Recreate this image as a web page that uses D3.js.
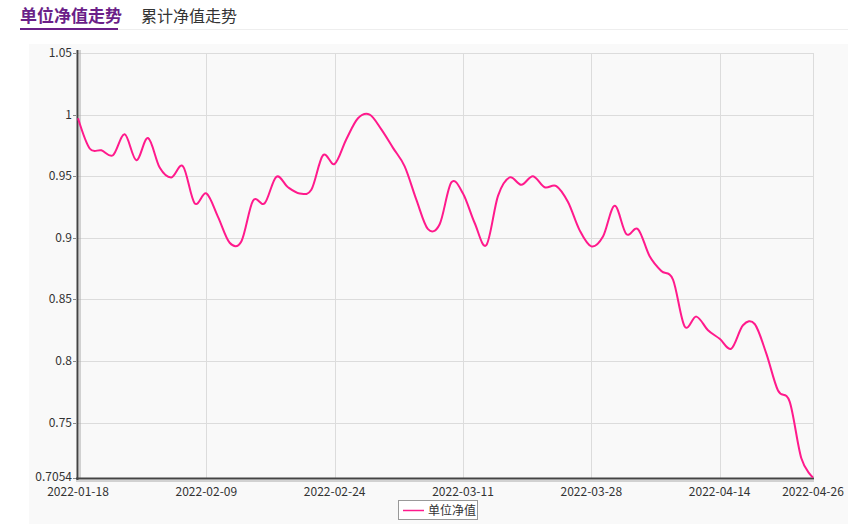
<!DOCTYPE html>
<html><head><meta charset="utf-8">
<script src="https://cdn.jsdelivr.net/npm/d3@7/dist/d3.min.js"></script>
<style>
body{margin:0;background:#fff;}
svg{display:block;font-family:"Noto Sans CJK SC","Noto Sans",sans-serif;}
</style></head>
<body><svg id="c" width="865" height="524"></svg>
<script>
const dates = ["2022-01-18","2022-01-19","2022-01-20","2022-01-21","2022-01-24","2022-01-25","2022-01-26","2022-01-27","2022-01-28",
"2022-02-07","2022-02-08","2022-02-09","2022-02-10","2022-02-11","2022-02-14","2022-02-15","2022-02-16","2022-02-17","2022-02-18",
"2022-02-21","2022-02-22","2022-02-23","2022-02-24","2022-02-25","2022-02-28","2022-03-01","2022-03-02","2022-03-03","2022-03-04",
"2022-03-07","2022-03-08","2022-03-09","2022-03-10","2022-03-11","2022-03-14","2022-03-15","2022-03-16","2022-03-17","2022-03-18",
"2022-03-21","2022-03-22","2022-03-23","2022-03-24","2022-03-25","2022-03-28","2022-03-29","2022-03-30","2022-03-31","2022-04-01",
"2022-04-06","2022-04-07","2022-04-08","2022-04-11","2022-04-12","2022-04-13","2022-04-14","2022-04-15","2022-04-18","2022-04-19",
"2022-04-20","2022-04-21","2022-04-22","2022-04-25","2022-04-26"];
const unitNav = [0.997,0.9725,0.971,0.967,0.984,0.963,0.981,0.957,0.949,0.958,
0.928,0.936,0.917,0.896,0.897,0.930,0.928,0.9495,0.941,0.936,
0.939,0.967,0.960,0.980,0.997,1.000,0.988,0.973,0.958,0.931,
0.907,0.911,0.945,0.936,0.912,0.894,0.934,0.949,0.943,0.950,
0.941,0.942,0.929,0.906,0.893,0.901,0.926,0.903,0.907,0.885,
0.873,0.866,0.828,0.836,0.825,0.818,0.810,0.829,0.830,0.806,
0.776,0.767,0.721,0.7054];
const yTicks = [1.05,1,0.95,0.9,0.85,0.8,0.75,0.7054];
const xTickLabels = ["2022-01-18","2022-02-09","2022-02-24","2022-03-11","2022-03-28","2022-04-14","2022-04-26"];
const tabs = ["单位净值走势","累计净值走势"];
const seriesName = "单位净值";

const svg = d3.select("#c");
// tabs
svg.append("text").attr("x",20).attr("y",22).attr("font-size",17).attr("font-weight","bold").attr("fill","#6b1f88").text(tabs[0]);
svg.append("text").attr("x",141).attr("y",22).attr("font-size",16).attr("fill","#333").text(tabs[1]);
svg.append("line").attr("x1",118).attr("x2",848).attr("y1",29.5).attr("y2",29.5).attr("stroke","#eee").attr("stroke-width",1);
svg.append("line").attr("x1",20).attr("x2",118).attr("y1",29).attr("y2",29).attr("stroke","#6b1f88").attr("stroke-width",2);

// chart background
svg.append("rect").attr("x",29).attr("y",44).attr("width",819).attr("height",480).attr("fill","#f9f9f9");

const x = d3.scaleLinear().domain([0,dates.length-1]).range([78,813]);
const y = d3.scaleLinear().domain([0.7054,1.05]).range([477.5,53]);

const g = svg.append("g");
// horizontal grid
g.selectAll("line.hg").data(yTicks.slice(0,-1)).join("line").attr("class","hg")
 .attr("x1",78).attr("x2",813).attr("y1",d=>Math.round(y(d))+0.5).attr("y2",d=>Math.round(y(d))+0.5)
 .attr("stroke","#dcdcdc").attr("stroke-width",1);
// vertical grid
g.selectAll("line.vg").data(xTickLabels.slice(1)).join("line").attr("class","vg")
 .attr("x1",d=>Math.round(x(dates.indexOf(d)))+0.5).attr("x2",d=>Math.round(x(dates.indexOf(d)))+0.5)
 .attr("y1",53).attr("y2",478).attr("stroke","#dcdcdc").attr("stroke-width",1);

// y labels + ticks
g.selectAll("text.yl").data(yTicks).join("text").attr("class","yl")
 .attr("x",72).attr("y",(d,i)=>y(d)+(i===yTicks.length-1?3:4)).attr("text-anchor","end").attr("font-size",12).attr("fill","#333")
 .text(d=>String(d));
g.selectAll("line.yt").data(yTicks).join("line").attr("class","yt")
 .attr("x1",73).attr("x2",76).attr("y1",d=>Math.round(y(d))+0.5).attr("y2",d=>Math.round(y(d))+0.5)
 .attr("stroke","#888");

// x labels
g.selectAll("text.xl").data(xTickLabels).join("text").attr("class","xl")
 .attr("x",d=>x(dates.indexOf(d))).attr("y",496).attr("text-anchor","middle").attr("font-size",12).attr("fill","#333")
 .text(d=>d);

// axes lines
g.append("line").attr("x1",77.5).attr("x2",77.5).attr("y1",50).attr("y2",480).attr("stroke","#444").attr("stroke-width",2);
g.append("line").attr("x1",80).attr("x2",80).attr("y1",50).attr("y2",478).attr("stroke","#aaa").attr("stroke-width",1);
g.append("line").attr("x1",76).attr("x2",814).attr("y1",478.5).attr("y2",478.5).attr("stroke","#444").attr("stroke-width",2);
g.append("line").attr("x1",76).attr("x2",814).attr("y1",481).attr("y2",481).attr("stroke","#aaa").attr("stroke-width",1);

// line
const line = d3.line().x((d,i)=>x(i)).y(d=>y(d)).curve(d3.curveCardinal.tension(0));
svg.append("path").datum(unitNav).attr("d",line).attr("fill","none").attr("stroke","#ff1a8c").attr("stroke-width",2);

// legend
const lg = svg.append("g");
lg.append("rect").attr("x",398.5).attr("y",500.5).attr("width",79).attr("height",19).attr("fill","#fff").attr("stroke","#999");
lg.append("line").attr("x1",403).attr("x2",424).attr("y1",510.5).attr("y2",510.5).attr("stroke","#ff1a8c").attr("stroke-width",1.5);
lg.append("text").attr("x",428).attr("y",515).attr("font-size",12).attr("fill","#333").text(seriesName);
</script></body></html>
